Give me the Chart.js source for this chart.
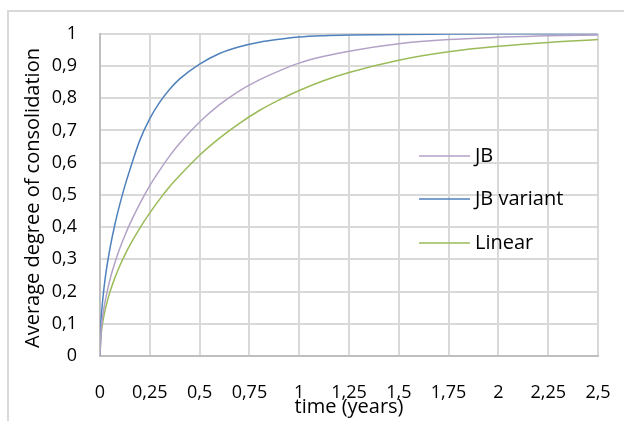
<!DOCTYPE html>
<html>

<head>
    <script src="https://cdn.jsdelivr.net/npm/chart.js@4.4.0/dist/chart.umd.min.js"></script>
</head>

<style>
    body {
        margin: 0;
        background: #ffffff;
    }

    #wrap {
        width: 624px;
        height: 421px;
    }
</style>

<body>
    <div id="wrap"><canvas id="myChart" width="624" height="421"></canvas></div>
</body>

<script>
    // time in years
    var times = [0, 0.005, 0.01, 0.02, 0.03, 0.05, 0.075, 0.1, 0.125, 0.15, 0.2, 0.25, 0.3, 0.35, 0.4, 0.5, 0.6, 0.7, 0.8, 0.9, 1, 1.125, 1.25, 1.5, 1.75, 2, 2.25, 2.5];
    var jb = [0, 0.075, 0.106, 0.15, 0.183, 0.237, 0.29, 0.335, 0.374, 0.41, 0.473, 0.529, 0.577, 0.621, 0.66, 0.726, 0.78, 0.823, 0.857, 0.885, 0.909, 0.93, 0.946, 0.969, 0.982, 0.989, 0.994, 0.996];
    var jbVariant = [0, 0.106, 0.149, 0.211, 0.259, 0.334, 0.409, 0.472, 0.528, 0.578, 0.67, 0.737, 0.788, 0.828, 0.86, 0.906, 0.939, 0.96, 0.974, 0.983, 0.99, 0.994, 0.996, 0.998, 0.999, 1, 1, 1];
    var linear = [0, 0.063, 0.089, 0.126, 0.154, 0.199, 0.243, 0.281, 0.314, 0.344, 0.397, 0.444, 0.487, 0.526, 0.56, 0.623, 0.676, 0.722, 0.762, 0.795, 0.824, 0.855, 0.88, 0.918, 0.944, 0.961, 0.973, 0.982];
    var seriesNames = ['JB', 'JB variant', 'Linear'];
    var seriesColors = ['#b3a2c7', '#4f81bd', '#9bbb59'];

    var font = "'Open Sans', 'Noto Sans', sans-serif";

    function points(vals) {
        var out = [];
        for (var i = 0; i < times.length; i++) {
            out.push({ x: times[i], y: vals[i] });
        }
        return out;
    }

    function comma(v) {
        return String(Math.round(v * 100) / 100).replace('.', ',');
    }

    // titles, frame and legend drawn by hand to match the placement
    var extras = {
        id: 'extras',
        afterDraw: function (chart) {
            var ctx = chart.ctx;
            var area = chart.chartArea;
            ctx.save();
            ctx.strokeStyle = '#d9d9d9';
            ctx.lineWidth = 2;
            ctx.beginPath();
            ctx.moveTo(8, 430);
            ctx.lineTo(8, 11);
            ctx.lineTo(630, 11);
            ctx.stroke();

            ctx.fillStyle = '#000000';
            ctx.font = "20px " + font;
            ctx.textAlign = 'center';
            ctx.textBaseline = 'middle';
            ctx.fillText('time (years)', (area.left + area.right) / 2, 407);

            ctx.save();
            ctx.translate(33, 198);
            ctx.rotate(-Math.PI / 2);
            ctx.fillText('Average degree of consolidation', 0, 0);
            ctx.restore();

            var legendY = [156, 199, 243];
            ctx.textAlign = 'left';
            for (var i = 0; i < seriesNames.length; i++) {
                ctx.strokeStyle = seriesColors[i];
                ctx.lineWidth = 1.5;
                ctx.beginPath();
                ctx.moveTo(419, legendY[i]);
                ctx.lineTo(470, legendY[i]);
                ctx.stroke();
                ctx.fillText(seriesNames[i], 475, legendY[i]);
            }
            ctx.restore();
        }
    };

    var ctx = document.getElementById('myChart').getContext('2d');
    var chart = new Chart(ctx, {
        type: 'line',
        data: {
            datasets: [
                { label: seriesNames[0], data: points(jb), borderColor: seriesColors[0] },
                { label: seriesNames[1], data: points(jbVariant), borderColor: seriesColors[1] },
                { label: seriesNames[2], data: points(linear), borderColor: seriesColors[2] }
            ]
        },
        options: {
            responsive: false,
            animation: false,
            devicePixelRatio: 1,
            layout: { padding: { left: 0, right: 26, top: 32, bottom: 0 } },
            elements: {
                point: { radius: 0 },
                line: { borderWidth: 1.5, cubicInterpolationMode: 'monotone', fill: false }
            },
            plugins: {
                legend: { display: false },
                tooltip: { enabled: false }
            },
            scales: {
                x: {
                    type: 'linear',
                    min: 0,
                    max: 2.5,
                    afterFit: function (axis) {
                        axis.height = 421 - 356;
                        axis.paddingLeft = 0;
                        axis.paddingRight = 0;
                    },
                    grid: { color: '#d9d9d9', lineWidth: 2, drawTicks: false },
                    border: { color: '#bfbfbf', width: 2 },
                    ticks: {
                        stepSize: 0.25,
                        padding: 26,
                        maxRotation: 0,
                        autoSkip: false,
                        color: '#000000',
                        font: { family: font, size: 18 },
                        callback: function (v) { return comma(v); }
                    }
                },
                y: {
                    min: 0,
                    max: 1,
                    afterFit: function (axis) { axis.width = 100; },
                    grid: { color: '#d9d9d9', lineWidth: 2, drawTicks: false },
                    border: { color: '#bfbfbf', width: 2 },
                    ticks: {
                        stepSize: 0.1,
                        padding: 23,
                        color: '#000000',
                        font: { family: font, size: 18 },
                        callback: function (v) { return comma(v); }
                    }
                }
            }
        },
        plugins: [extras]
    });
</script>

</html>
